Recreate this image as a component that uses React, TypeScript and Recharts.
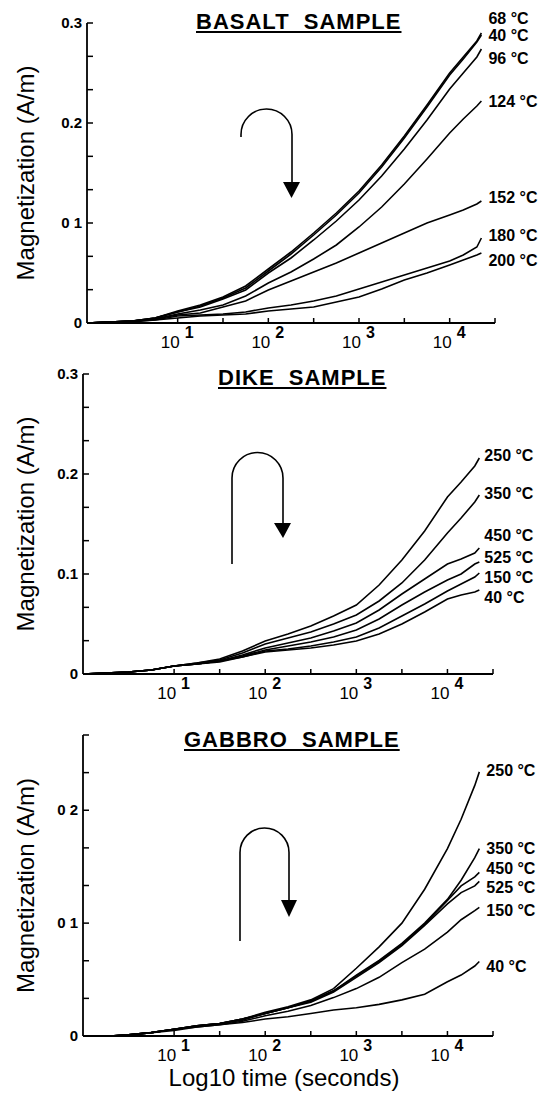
import { LineChart, Line, XAxis, YAxis, Label } from "recharts";

// log10(time in seconds) sample points
const basaltTime = [0, 0.25, 0.5, 0.75, 1, 1.25, 1.5, 1.75, 2, 2.25, 2.5, 2.75, 3, 3.25, 3.5, 3.75, 4, 4.15, 4.3, 4.35];
const basalt68 = [0, 0.001, 0.002, 0.005, 0.012, 0.018, 0.026, 0.037, 0.054, 0.071, 0.09, 0.11, 0.132, 0.158, 0.187, 0.218, 0.25, 0.266, 0.282, 0.29];
const basalt40 = [0, 0.001, 0.002, 0.005, 0.011, 0.017, 0.025, 0.035, 0.052, 0.069, 0.088, 0.108, 0.13, 0.156, 0.185, 0.216, 0.248, 0.264, 0.281, 0.288];
const basalt96 = [0, 0.001, 0.002, 0.005, 0.011, 0.016, 0.024, 0.033, 0.05, 0.065, 0.083, 0.102, 0.123, 0.147, 0.174, 0.203, 0.234, 0.25, 0.266, 0.274];
const basalt124 = [0, 0.001, 0.002, 0.004, 0.009, 0.013, 0.018, 0.027, 0.04, 0.051, 0.064, 0.078, 0.096, 0.116, 0.139, 0.164, 0.19, 0.204, 0.217, 0.222];
const basalt152 = [0, 0.001, 0.002, 0.004, 0.008, 0.01, 0.016, 0.022, 0.033, 0.042, 0.051, 0.06, 0.07, 0.08, 0.09, 0.1, 0.108, 0.113, 0.119, 0.122];
const basalt180 = [0, 0.001, 0.002, 0.003, 0.007, 0.008, 0.009, 0.011, 0.015, 0.018, 0.022, 0.027, 0.034, 0.041, 0.048, 0.055, 0.062, 0.068, 0.076, 0.085];
const basalt200 = [0, 0.001, 0.001, 0.003, 0.005, 0.007, 0.008, 0.009, 0.012, 0.014, 0.016, 0.021, 0.026, 0.034, 0.043, 0.05, 0.058, 0.063, 0.068, 0.07];

const dikeTime = [0, 0.25, 0.5, 0.75, 1, 1.25, 1.5, 1.75, 2, 2.25, 2.5, 2.75, 3, 3.25, 3.5, 3.75, 4, 4.15, 4.3, 4.35];
const dike250 = [0, 0.001, 0.002, 0.004, 0.008, 0.011, 0.015, 0.023, 0.033, 0.04, 0.048, 0.058, 0.069, 0.089, 0.114, 0.143, 0.177, 0.192, 0.208, 0.216];
const dike350 = [0, 0.001, 0.002, 0.004, 0.008, 0.011, 0.014, 0.021, 0.03, 0.036, 0.042, 0.05, 0.059, 0.073, 0.091, 0.114, 0.141, 0.156, 0.172, 0.179];
const dike450 = [0, 0.001, 0.002, 0.004, 0.008, 0.01, 0.013, 0.019, 0.026, 0.031, 0.036, 0.043, 0.051, 0.064, 0.08, 0.095, 0.11, 0.115, 0.121, 0.126];
const dike525 = [0, 0.001, 0.002, 0.004, 0.008, 0.01, 0.013, 0.018, 0.024, 0.028, 0.032, 0.037, 0.044, 0.055, 0.069, 0.082, 0.094, 0.1, 0.11, 0.112];
const dike150 = [0, 0.001, 0.002, 0.004, 0.008, 0.01, 0.013, 0.017, 0.023, 0.025, 0.028, 0.032, 0.037, 0.046, 0.058, 0.07, 0.083, 0.09, 0.097, 0.101];
const dike40 = [0, 0.001, 0.002, 0.004, 0.008, 0.01, 0.012, 0.017, 0.022, 0.024, 0.026, 0.029, 0.033, 0.04, 0.05, 0.062, 0.075, 0.079, 0.082, 0.084];

const gabbroTime = [0.3, 0.5, 0.75, 1, 1.25, 1.5, 1.75, 2, 2.25, 2.5, 2.75, 3, 3.25, 3.5, 3.75, 4, 4.15, 4.3, 4.35];
const gabbro250 = [0, 0.001, 0.003, 0.006, 0.009, 0.011, 0.015, 0.021, 0.026, 0.032, 0.042, 0.06, 0.079, 0.1, 0.13, 0.166, 0.192, 0.222, 0.234];
const gabbro350 = [0, 0.001, 0.003, 0.006, 0.009, 0.011, 0.015, 0.02, 0.025, 0.031, 0.04, 0.054, 0.067, 0.082, 0.1, 0.121, 0.138, 0.158, 0.166];
const gabbro450 = [0, 0.001, 0.003, 0.006, 0.009, 0.011, 0.015, 0.02, 0.025, 0.031, 0.04, 0.053, 0.066, 0.081, 0.099, 0.12, 0.133, 0.141, 0.145];
const gabbro525 = [0, 0.001, 0.003, 0.006, 0.009, 0.011, 0.014, 0.02, 0.025, 0.03, 0.039, 0.052, 0.065, 0.08, 0.098, 0.117, 0.127, 0.133, 0.137];
const gabbro150 = [0, 0.001, 0.003, 0.006, 0.008, 0.01, 0.013, 0.018, 0.022, 0.027, 0.034, 0.042, 0.052, 0.065, 0.077, 0.092, 0.103, 0.111, 0.114];
const gabbro40 = [0, 0.001, 0.003, 0.005, 0.008, 0.01, 0.012, 0.015, 0.017, 0.02, 0.023, 0.025, 0.028, 0.032, 0.037, 0.048, 0.054, 0.062, 0.066];

const xTicks = [1, 1.5, 2, 2.5, 3, 3.5, 4, 4.5];
const yTicks30 = [0, 1 / 30, 2 / 30, 0.1, 4 / 30, 5 / 30, 0.2, 7 / 30, 8 / 30, 0.3];
const yTicks27 = [0, 1 / 30, 2 / 30, 0.1, 4 / 30, 5 / 30, 0.2, 7 / 30, 8 / 30];
const basaltTickText: Record<string, string> = { "0": "0", "0.1": "0 1", "0.2": "0.2", "0.3": "0.3" };
const dikeTickText: Record<string, string> = { "0": "0", "0.1": "0.1", "0.2": "0.2", "0.3": "0.3" };
const gabbroTickText: Record<string, string> = { "0": "0", "0.1": "0 1", "0.2": "0 2" };

const FONT = "'Liberation Sans', Arial, Helvetica, sans-serif";

type Series = { key: string; name: string; values: number[]; dy: number };

const buildRows = (time: number[], series: Series[]) =>
  time.map((t, i) => {
    const row: Record<string, number> = { lt: t };
    series.forEach((s) => (row[s.key] = s.values[i]));
    return row;
  });

function YTick(props: any) {
  const { x, y, payload, names } = props;
  const key = String(Math.round(payload.value * 1000) / 1000);
  const txt = names[key];
  return (
    <g>
      <line x1={x} y1={y} x2={x + 6} y2={y} stroke="#000" strokeWidth={1.5} />
      {txt !== undefined && (
        <text x={x - 5} y={y + 5} textAnchor="end" fontSize={15} fontWeight={700} fontFamily={FONT} fill="#000">
          {txt}
        </text>
      )}
    </g>
  );
}

function XTick(props: any) {
  const { x, y, payload } = props;
  const v = payload.value;
  return (
    <g>
      <line x1={x} y1={y} x2={x} y2={y - 5} stroke="#000" strokeWidth={1.5} />
      {Number.isInteger(v) && v < 4.5 && (
        <g fontFamily={FONT} fill="#000">
          <text x={x + 2} y={y + 25} textAnchor="end" fontSize={17}>
            10
          </text>
          <text x={x + 7} y={y + 15} fontSize={16} fontWeight={700}>
            {v}
          </text>
        </g>
      )}
    </g>
  );
}

function YTitle(props: any) {
  const vb = props.viewBox || {};
  const cx = 25;
  const cy = vb.y + vb.height / 2;
  return (
    <text
      x={cx}
      y={cy}
      transform={`rotate(-90 ${cx} ${cy})`}
      textAnchor="middle"
      dominantBaseline="central"
      fontSize={24}
      fontFamily={FONT}
      fill="#000"
    >
      Magnetization (A/m)
    </text>
  );
}

function makeEndLabel(name: string, dy: number, dx: number, lastIndex: number) {
  return (p: any) => {
    if (p.index !== lastIndex) return <g />;
    return (
      <text x={p.x + dx} y={p.y + dy + 6} fontSize={16} fontWeight={700} fontFamily={FONT} fill="#000">
        {name}
      </text>
    );
  };
}

type PanelProps = {
  top: number;
  height: number;
  margin: { top: number; right: number; bottom: number; left: number };
  yWidth: number;
  xHeight: number;
  time: number[];
  series: Series[];
  yMax: number;
  yTicks: number[];
  tickText: Record<string, string>;
  labelDx: number;
  xTitle?: boolean;
};

function Panel(p: PanelProps) {
  const rows = buildRows(p.time, p.series);
  const last = p.time.length - 1;
  return (
    <div style={{ position: "absolute", left: 0, top: p.top }}>
      <LineChart width={542} height={p.height} data={rows} margin={p.margin}>
        <XAxis
          type="number"
          dataKey="lt"
          domain={[0, 4.5]}
          ticks={xTicks}
          height={p.xHeight}
          tickSize={0}
          tickMargin={0}
          tickLine={false}
          axisLine={{ stroke: "#000", strokeWidth: 1.8 }}
          tick={<XTick />}
          interval={0}
        >
          {p.xTitle && (
            <Label
              content={(lp: any) => (
                <text
                  x={284}
                  y={(lp.viewBox?.y ?? 0) + 50}
                  textAnchor="middle"
                  fontSize={24}
                  fontFamily={FONT}
                  fill="#000"
                >
                  Log10 time (seconds)
                </text>
              )}
            />
          )}
        </XAxis>
        <YAxis
          type="number"
          domain={[0, p.yMax]}
          ticks={p.yTicks}
          width={p.yWidth}
          tickSize={0}
          tickMargin={0}
          tickLine={false}
          axisLine={{ stroke: "#000", strokeWidth: 1.8 }}
          tick={<YTick names={p.tickText} />}
          interval={0}
          allowDataOverflow
        >
          <Label content={<YTitle />} />
        </YAxis>
        {p.series.map((s) => (
          <Line
            key={s.key}
            type="linear"
            dataKey={s.key}
            stroke="#000"
            strokeWidth={1.6}
            dot={false}
            isAnimationActive={false}
            label={makeEndLabel(s.name, s.dy, p.labelDx, last)}
          />
        ))}
      </LineChart>
    </div>
  );
}

const titleStyle = (left: number, top: number): React.CSSProperties => ({
  position: "absolute",
  left,
  top,
  fontFamily: FONT,
  fontWeight: 700,
  fontSize: 22,
  letterSpacing: 1,
  textDecoration: "underline",
  whiteSpace: "pre",
  lineHeight: "22px",
  color: "#000",
});

export default function App() {
  const basalt: Series[] = [
    { key: "t68", name: "68 °C", values: basalt68, dy: -15 },
    { key: "t40", name: "40 °C", values: basalt40, dy: 0 },
    { key: "t96", name: "96 °C", values: basalt96, dy: 9 },
    { key: "t124", name: "124 °C", values: basalt124, dy: 0 },
    { key: "t152", name: "152 °C", values: basalt152, dy: -4 },
    { key: "t180", name: "180 °C", values: basalt180, dy: -3 },
    { key: "t200", name: "200 °C", values: basalt200, dy: 7 },
  ];
  const dike: Series[] = [
    { key: "t250", name: "250 °C", values: dike250, dy: -3 },
    { key: "t350", name: "350 °C", values: dike350, dy: -2 },
    { key: "t450", name: "450 °C", values: dike450, dy: -13 },
    { key: "t525", name: "525 °C", values: dike525, dy: -5 },
    { key: "t150", name: "150 °C", values: dike150, dy: 4 },
    { key: "t40", name: "40 °C", values: dike40, dy: 7 },
  ];
  const gabbro: Series[] = [
    { key: "t250", name: "250 °C", values: gabbro250, dy: -2 },
    { key: "t350", name: "350 °C", values: gabbro350, dy: -1 },
    { key: "t450", name: "450 °C", values: gabbro450, dy: -4 },
    { key: "t525", name: "525 °C", values: gabbro525, dy: 6 },
    { key: "t150", name: "150 °C", values: gabbro150, dy: 3 },
    { key: "t40", name: "40 °C", values: gabbro40, dy: 4 },
  ];

  return (
    <div style={{ position: "absolute", left: 0, top: 0, width: 542, height: 1093, background: "#fff" }}>
      <Panel
        top={0}
        height={360}
        margin={{ top: 23, right: 47, bottom: 0, left: 0 }}
        yWidth={87}
        xHeight={37}
        time={basaltTime}
        series={basalt}
        yMax={0.3}
        yTicks={yTicks30}
        tickText={basaltTickText}
        labelDx={7}
      />
      <Panel
        top={360}
        height={351}
        margin={{ top: 14, right: 49, bottom: 0, left: 0 }}
        yWidth={83}
        xHeight={37}
        time={dikeTime}
        series={dike}
        yMax={0.3}
        yTicks={yTicks30}
        tickText={dikeTickText}
        labelDx={5}
      />
      <Panel
        top={711}
        height={382}
        margin={{ top: 24, right: 49, bottom: 0, left: 0 }}
        yWidth={83}
        xHeight={57}
        time={gabbroTime}
        series={gabbro}
        yMax={8 / 30}
        yTicks={yTicks27}
        tickText={gabbroTickText}
        labelDx={7}
        xTitle
      />

      <div style={titleStyle(196, 11)}>BASALT  SAMPLE</div>
      <div style={titleStyle(218, 367)}>DIKE  SAMPLE</div>
      <div style={titleStyle(184, 729)}>GABBRO  SAMPLE</div>

      <svg width={542} height={1093} style={{ position: "absolute", left: 0, top: 0, pointerEvents: "none" }}>
        <g fill="none" stroke="#000" strokeWidth={1.6}>
          <path d="M241,137 L241,134.5 A25.5,25.5 0 0 1 292,134.5 L292,183" />
          <path d="M232,564 L232,478 A25.5,25.5 0 0 1 283,478 L283,524" />
          <path d="M240,941 L240,852.5 A24.5,24.5 0 0 1 289,852.5 L289,901" />
        </g>
        <g fill="#000">
          <polygon points="283,182 300,182 291.5,198" />
          <polygon points="274,523 291,523 283,538" />
          <polygon points="281,900 297,900 289,917" />
        </g>
      </svg>
    </div>
  );
}
